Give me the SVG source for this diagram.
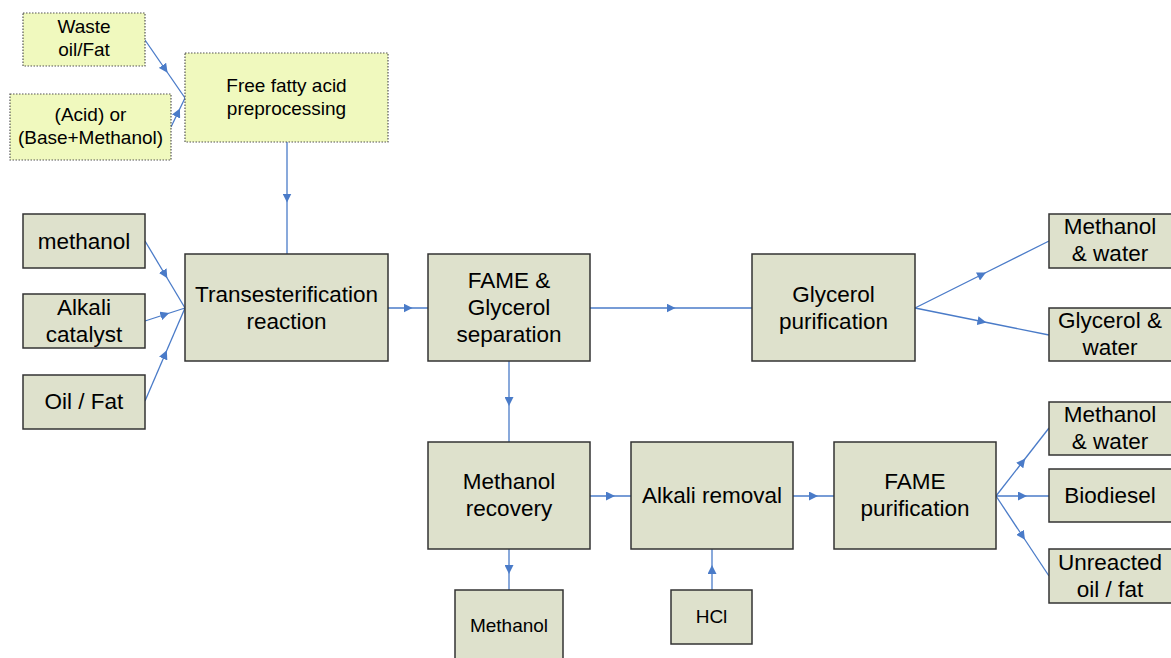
<svg xmlns="http://www.w3.org/2000/svg" width="1171" height="658" viewBox="0 0 1171 658">
  <defs>
    <marker id="arr" viewBox="0 0 10 10" refX="5" refY="5" markerWidth="9" markerHeight="9" markerUnits="userSpaceOnUse" orient="auto">
      <path d="M0,0 L10,5 L0,10 Z" fill="#4A7BC8"/>
    </marker>
  </defs>
  <style>
    .box { fill: #DEE1CC; stroke: #333333; stroke-width: 1.5; }
    .pre { fill: #F0F9BE; stroke: #555555; stroke-width: 1.2; stroke-dasharray: 1.5 1.5; }
    .t { font-family: "Liberation Sans", Arial, sans-serif; fill: #000; text-anchor: middle; }
    .lg { font-size: 22.5px; }
    .sm { font-size: 19px; }
    .link { fill: none; stroke: #4A7BC8; stroke-width: 1.3; marker-mid: url(#arr); }
  </style>
  <rect width="1171" height="658" fill="#FFFFFF"/>

  <!-- connectors -->
  <g id="connectors">
    <polyline class="link" points="145,40 165,69 185,98"/>
    <polyline class="link" points="171,127 178,112.5 185,98"/>
    <polyline class="link" points="287,142 287,198 287,254"/>
    <polyline class="link" points="145,241 165,274.5 185,308"/>
    <polyline class="link" points="145,321 165,314.5 185,308"/>
    <polyline class="link" points="145,401 165,354.5 185,308"/>
    <polyline class="link" points="388,308 408,308 428,308"/>
    <polyline class="link" points="590,308 671,308 752,308"/>
    <polyline class="link" points="915,308 982,274.5 1049,241"/>
    <polyline class="link" points="915,308 982,321.5 1049,335"/>
    <polyline class="link" points="509,361 509,401.5 509,442"/>
    <polyline class="link" points="590,496 610.5,496 631,496"/>
    <polyline class="link" points="793,496 813.5,496 834,496"/>
    <polyline class="link" points="996,496 1022.5,462 1049,428"/>
    <polyline class="link" points="996,496 1022.5,496 1049,496"/>
    <polyline class="link" points="996,496 1022.5,536 1049,576"/>
    <polyline class="link" points="509,549 509,569.5 509,590"/>
    <polyline class="link" points="712,590 712,569.5 712,549"/>
  </g>

  <!-- preprocessing stage -->
  <g id="waste-oil">
    <rect class="pre" x="23" y="13" width="122" height="53"/>
    <text class="t sm" x="84" y="33">Waste</text>
    <text class="t sm" x="84" y="56">oil/Fat</text>
  </g>
  <g id="acid-base">
    <rect class="pre" x="10" y="94" width="161" height="66"/>
    <text class="t sm" x="90.5" y="121">(Acid) or</text>
    <text class="t sm" x="90.5" y="144">(Base+Methanol)</text>
  </g>
  <g id="ffa-preprocessing">
    <rect class="pre" x="185" y="53" width="203" height="89"/>
    <text class="t sm" x="286.5" y="92">Free fatty acid</text>
    <text class="t sm" x="286.5" y="115">preprocessing</text>
  </g>

  <!-- feeds -->
  <g id="methanol-feed">
    <rect class="box" x="23" y="214" width="122" height="54"/>
    <text class="t lg" x="84" y="249">methanol</text>
  </g>
  <g id="alkali-catalyst">
    <rect class="box" x="23" y="294" width="122" height="54"/>
    <text class="t lg" x="84" y="315">Alkali</text>
    <text class="t lg" x="84" y="342">catalyst</text>
  </g>
  <g id="oil-fat">
    <rect class="box" x="23" y="375" width="122" height="54"/>
    <text class="t lg" x="84" y="409">Oil / Fat</text>
  </g>

  <!-- main process -->
  <g id="transesterification">
    <rect class="box" x="185" y="254" width="203" height="107"/>
    <text class="t lg" x="286.5" y="302">Transesterification</text>
    <text class="t lg" x="286.5" y="329">reaction</text>
  </g>
  <g id="fame-glycerol-separation">
    <rect class="box" x="428" y="254" width="162" height="107"/>
    <text class="t lg" x="509" y="288">FAME &amp;</text>
    <text class="t lg" x="509" y="315">Glycerol</text>
    <text class="t lg" x="509" y="342">separation</text>
  </g>
  <g id="glycerol-purification">
    <rect class="box" x="752" y="254" width="163" height="107"/>
    <text class="t lg" x="833.5" y="302">Glycerol</text>
    <text class="t lg" x="833.5" y="329">purification</text>
  </g>
  <g id="methanol-water-1">
    <rect class="box" x="1049" y="214" width="123" height="54"/>
    <text class="t lg" x="1110" y="234">Methanol</text>
    <text class="t lg" x="1110" y="261">&amp; water</text>
  </g>
  <g id="glycerol-water">
    <rect class="box" x="1049" y="308" width="123" height="53"/>
    <text class="t lg" x="1110" y="328">Glycerol &amp;</text>
    <text class="t lg" x="1110" y="355">water</text>
  </g>

  <g id="methanol-recovery">
    <rect class="box" x="428" y="442" width="162" height="107"/>
    <text class="t lg" x="509" y="489">Methanol</text>
    <text class="t lg" x="509" y="516">recovery</text>
  </g>
  <g id="alkali-removal">
    <rect class="box" x="631" y="442" width="162" height="107"/>
    <text class="t lg" x="712" y="503">Alkali removal</text>
  </g>
  <g id="fame-purification">
    <rect class="box" x="834" y="442" width="162" height="107"/>
    <text class="t lg" x="915" y="489">FAME</text>
    <text class="t lg" x="915" y="516">purification</text>
  </g>
  <g id="methanol-water-2">
    <rect class="box" x="1049" y="402" width="123" height="53"/>
    <text class="t lg" x="1110" y="422">Methanol</text>
    <text class="t lg" x="1110" y="449">&amp; water</text>
  </g>
  <g id="biodiesel">
    <rect class="box" x="1049" y="469" width="123" height="53"/>
    <text class="t lg" x="1110" y="503">Biodiesel</text>
  </g>
  <g id="unreacted-oil">
    <rect class="box" x="1049" y="549" width="123" height="54"/>
    <text class="t lg" x="1110" y="570">Unreacted</text>
    <text class="t lg" x="1110" y="597">oil / fat</text>
  </g>

  <g id="methanol-out">
    <rect class="box" x="455" y="590" width="108" height="70"/>
    <text class="t sm" x="509" y="632">Methanol</text>
  </g>
  <g id="hcl">
    <rect class="box" x="671" y="590" width="81" height="54"/>
    <text class="t sm" x="711.5" y="623">HCl</text>
  </g>
</svg>
